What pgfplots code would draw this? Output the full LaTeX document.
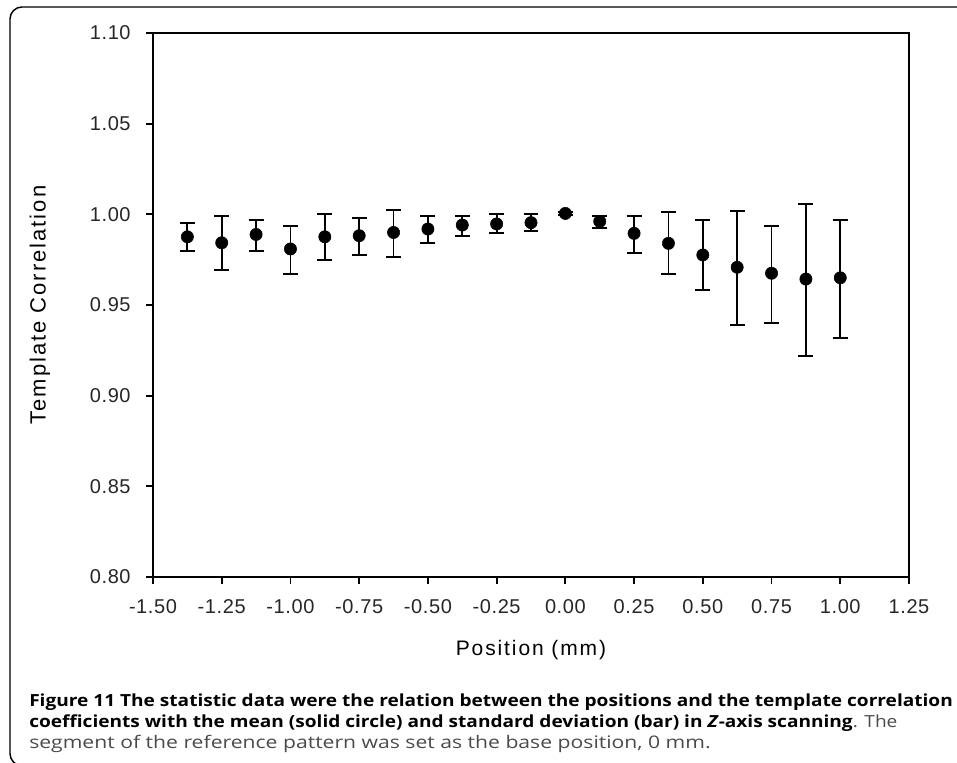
\documentclass[border=0pt]{standalone}
\usepackage{pgfplots}
\pgfplotsset{compat=1.18}
\usepackage{pgfplotstable}
\usepackage{fontspec}
\setmainfont{Liberation Sans}
\newfontfamily\lblfont[LetterSpace=9]{Liberation Sans}
\newfontfamily\tickfont[LetterSpace=3]{Liberation Sans}
\newfontfamily\capfont[FakeStretch=1.145]{Open Sans}
\newfontfamily\capregfont[FakeStretch=1.22]{Open Sans}
\definecolor{capgray}{HTML}{4A4A4A}
\pgfplotstableread{
x y ep em
-1.375 0.9876 0.0074 0.0076
-1.25 0.9843 0.0148 0.0150
-1.125 0.9889 0.0080 0.0090
-1.0 0.9809 0.0126 0.0140
-0.875 0.9876 0.0126 0.0130
-0.75 0.9882 0.0098 0.0106
-0.625 0.9900 0.0122 0.0134
-0.5 0.9919 0.0070 0.0079
-0.375 0.9941 0.0050 0.0059
-0.25 0.9947 0.0057 0.0052
-0.125 0.9954 0.0050 0.0048
0.0 1.0005 0.0010 0.0010
0.125 0.9961 0.0030 0.0037
0.25 0.9895 0.0096 0.0108
0.375 0.9840 0.0171 0.0169
0.5 0.9776 0.0193 0.0192
0.625 0.9708 0.0312 0.0317
0.75 0.9675 0.0260 0.0273
0.875 0.9643 0.0414 0.0425
1.0 0.9650 0.0319 0.0334
}\datatable
\begin{document}
\begin{tikzpicture}
\useasboundingbox (-114.75pt,-139.5pt) rectangle (603pt,432.75pt);
\draw[line width=1.1pt, rounded corners=9pt] (612pt,427.5pt) -- (-107.25pt,427.5pt) -- (-107.25pt,-141.5pt) -- (-80pt,-141.5pt);
\begin{axis}[
  scale only axis, width=567pt, height=408pt,
  at={(0,0)}, anchor=south west,
  xmin=-1.5, xmax=1.25, ymin=0.8, ymax=1.1,
  xtick={-1.5,-1.25,-1,-0.75,-0.5,-0.25,0,0.25,0.5,0.75,1,1.25},
  xticklabels={-1.50,-1.25,-1.00,-0.75,-0.50,-0.25,0.00,0.25,0.50,0.75,1.00,1.25},
  ytick={0.8,0.85,0.9,0.95,1.0,1.05,1.1},
  yticklabels={0.80,0.85,0.90,0.95,1.00,1.05,1.10},
  tick align=outside, xtick pos=left, ytick pos=left,
  major tick length=5.25pt,
  axis line style={line width=1.4pt},
  every tick/.style={black, line width=1.4pt},
  tick label style={font=\tickfont\fontsize{15}{18}\selectfont, text=black!85},
  xticklabel style={yshift=-8pt},
  yticklabel style={xshift=-8pt},
  xlabel={Position (mm)},
  ylabel={Template Correlation},
  xlabel style={font=\lblfont\fontsize{15.75}{18}\selectfont, at={(axis description cs:0.5,0)}, anchor=center, yshift=-55pt},
  ylabel style={font=\lblfont\fontsize{16.5}{18}\selectfont, at={(axis description cs:0,0.5)}, anchor=center, yshift=84.75pt},
]
\addplot[only marks, mark=*, mark size=4.6pt, black,
  error bars/.cd, y dir=both, y explicit,
  error bar style={line width=1.4pt},
  error mark options={rotate=90, mark size=5.6pt, line width=1.4pt}]
  table[x=x, y=y, y error plus=ep, y error minus=em] {\datatable};
\end{axis}
\node[anchor=base west, inner sep=0pt, font=\capfont\fontsize{12.5}{14}\selectfont] at (-93pt,-97.3pt)
  {\bfseries Figure 11 The statistic data were the relation between the positions and the template correlation};
\node[anchor=base west, inner sep=0pt, font=\capfont\fontsize{12.5}{14}\selectfont] at (-93pt,-113.25pt)
  {\bfseries coefficients with the mean (solid circle) and standard deviation (bar) in \textit{Z}-axis scanning\mdseries\color{capgray}. The};
\node[anchor=base west, inner sep=0pt, font=\capregfont\fontsize{13}{14}\selectfont, text=capgray] at (-93pt,-129pt)
  {segment of the reference pattern was set as the base position, 0 mm.};
\end{tikzpicture}
\end{document}
